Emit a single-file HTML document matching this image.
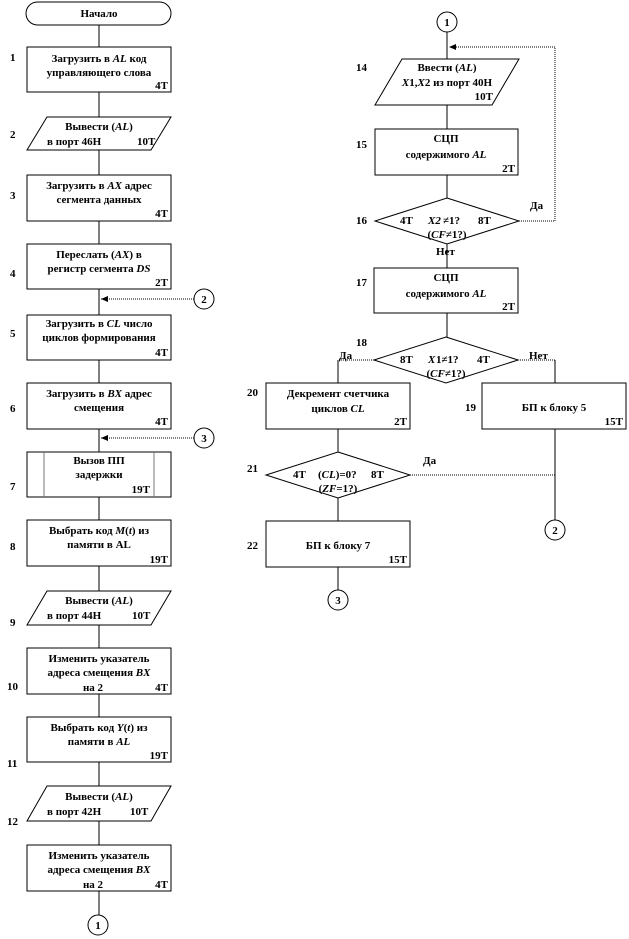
<!DOCTYPE html>
<html><head><meta charset="utf-8"><style>
html,body{margin:0;padding:0;background:#fff;width:629px;height:939px;overflow:hidden}
svg{display:block}
text{font-family:"Liberation Serif","DejaVu Serif",serif;font-weight:bold;font-size:11px;fill:#000}
.n{font-size:11px}
.i{font-style:italic}
</style></head><body>
<svg width="629" height="939" viewBox="0 0 629 939" xmlns="http://www.w3.org/2000/svg">
<g stroke="#000" stroke-width="1" fill="none">
<!-- left main vertical line -->
<line x1="99" y1="25" x2="99" y2="915"/>
<!-- right column line -->
<line x1="447" y1="32" x2="447" y2="337"/>
<line x1="338" y1="360" x2="338" y2="590"/>
<line x1="555" y1="360" x2="555" y2="520"/>
<line x1="374" y1="360" x2="338" y2="360" stroke-dasharray="1,1"/>
<line x1="518" y1="360" x2="555" y2="360" stroke-dasharray="1,1"/>
<line x1="410" y1="475" x2="555" y2="475" stroke-dasharray="1,1"/>
<!-- loop back -->
<polyline points="519,221 555,221 555,47 449,47" stroke-dasharray="1,1"/>
<line x1="194" y1="299" x2="101" y2="299" stroke-dasharray="1,1"/>
<line x1="194" y1="438" x2="101" y2="438" stroke-dasharray="1,1"/>
</g>
<g fill="#000">
<polygon points="101,299 108,296 108,302"/>
<polygon points="101,438 108,435 108,441"/>
<polygon points="449,47 456,44 456,50"/>
</g>
<g stroke="#000" stroke-width="1" fill="#fff">
<rect x="26" y="2" width="145" height="23" rx="11.5"/>
<rect x="27" y="47" width="144" height="45"/>
<polygon points="47,117 171,117 151,150 27,150"/>
<rect x="27" y="175" width="144" height="46"/>
<rect x="27" y="244" width="144" height="45"/>
<rect x="27" y="315" width="144" height="45"/>
<rect x="27" y="383" width="144" height="46"/>
<rect x="27" y="452" width="144" height="45"/>
<rect x="27" y="520" width="144" height="46"/>
<polygon points="47,591 171,591 151,625 27,625"/>
<rect x="27" y="648" width="144" height="46"/>
<rect x="27" y="717" width="144" height="45"/>
<polygon points="47,786 171,786 151,821 27,821"/>
<rect x="27" y="845" width="144" height="46"/>
<circle cx="98" cy="925" r="10"/>
<circle cx="204" cy="299" r="10"/>
<circle cx="204" cy="438" r="10"/>
<circle cx="447" cy="22" r="10"/>
<polygon points="402,59 519,59 492,105 375,105"/>
<rect x="375" y="129" width="143" height="46"/>
<polygon points="447,198 519,221 447,244 375,221"/>
<rect x="374" y="268" width="144" height="45"/>
<polygon points="446,337 518,360 446,383 374,360"/>
<rect x="266" y="383" width="144" height="46"/>
<rect x="482" y="383" width="144" height="46"/>
<polygon points="338,452 410,475 338,498 266,475"/>
<rect x="266" y="521" width="144" height="46"/>
<circle cx="555" cy="530" r="10"/>
<circle cx="338" cy="600" r="10"/>
</g>
<g stroke="#777" stroke-width="1">
<line x1="44" y1="452" x2="44" y2="497"/>
<line x1="154" y1="452" x2="154" y2="497"/>
</g>
<!-- left texts -->
<text x="99" y="17" text-anchor="middle">Начало</text>
<text x="99" y="62" text-anchor="middle">Загрузить в <tspan class="i">AL</tspan> код</text>
<text x="99" y="76" text-anchor="middle">управляющего слова</text>
<text x="168" y="89" text-anchor="end">4Т</text>
<text x="99" y="130" text-anchor="middle">Вывести (<tspan class="i">AL</tspan>)</text>
<text x="47" y="145">в порт 46Н</text><text x="137" y="145">10Т</text>
<text x="99" y="189" text-anchor="middle">Загрузить в <tspan class="i">AX</tspan> адрес</text>
<text x="99" y="203" text-anchor="middle">сегмента данных</text>
<text x="168" y="217" text-anchor="end">4Т</text>
<text x="99" y="258" text-anchor="middle">Переслать (<tspan class="i">AX</tspan>) в</text>
<text x="99" y="272" text-anchor="middle">регистр сегмента <tspan class="i">DS</tspan></text>
<text x="168" y="286" text-anchor="end">2Т</text>
<text x="99" y="327" text-anchor="middle">Загрузить в <tspan class="i">CL</tspan> число</text>
<text x="99" y="341" text-anchor="middle">циклов формирования</text>
<text x="168" y="356" text-anchor="end">4Т</text>
<text x="99" y="397" text-anchor="middle">Загрузить в <tspan class="i">BX</tspan> адрес</text>
<text x="99" y="411" text-anchor="middle">смещения</text>
<text x="168" y="425" text-anchor="end">4Т</text>
<text x="99" y="464" text-anchor="middle">Вызов ПП</text>
<text x="99" y="478" text-anchor="middle">задержки</text>
<text x="150" y="493" text-anchor="end">19Т</text>
<text x="99" y="534" text-anchor="middle">Выбрать код <tspan class="i">M</tspan>(<tspan class="i">t</tspan>) из</text>
<text x="99" y="548" text-anchor="middle">памяти в AL</text>
<text x="168" y="563" text-anchor="end">19Т</text>
<text x="99" y="604" text-anchor="middle">Вывести (<tspan class="i">AL</tspan>)</text>
<text x="47" y="619">в порт 44Н</text><text x="132" y="619">10Т</text>
<text x="99" y="662" text-anchor="middle">Изменить указатель</text>
<text x="99" y="676" text-anchor="middle">адреса смещения <tspan class="i">BX</tspan></text>
<text x="93" y="691" text-anchor="middle">на 2</text><text x="168" y="691" text-anchor="end">4Т</text>
<text x="99" y="731" text-anchor="middle">Выбрать код <tspan class="i">Y</tspan>(<tspan class="i">t</tspan>) из</text>
<text x="99" y="745" text-anchor="middle">памяти в <tspan class="i">AL</tspan></text>
<text x="168" y="759" text-anchor="end">19Т</text>
<text x="99" y="800" text-anchor="middle">Вывести (<tspan class="i">AL</tspan>)</text>
<text x="47" y="815">в порт 42Н</text><text x="130" y="815">10Т</text>
<text x="99" y="859" text-anchor="middle">Изменить указатель</text>
<text x="99" y="873" text-anchor="middle">адреса смещения <tspan class="i">BX</tspan></text>
<text x="93" y="888" text-anchor="middle">на 2</text><text x="168" y="888" text-anchor="end">4Т</text>
<text x="98" y="929" text-anchor="middle">1</text>
<text x="204" y="303" text-anchor="middle">2</text>
<text x="204" y="442" text-anchor="middle">3</text>
<!-- left numbers -->
<text x="10" y="61">1</text><text x="10" y="138">2</text><text x="10" y="199">3</text>
<text x="10" y="277">4</text><text x="10" y="337">5</text><text x="10" y="412">6</text>
<text x="10" y="490">7</text><text x="10" y="550">8</text><text x="10" y="626">9</text>
<text x="7" y="690">10</text><text x="7" y="767">11</text><text x="7" y="825">12</text>
<!-- right texts -->
<text x="447" y="26" text-anchor="middle">1</text>
<text x="447" y="71" text-anchor="middle">Ввести (<tspan class="i">AL</tspan>)</text>
<text x="447" y="86" text-anchor="middle"><tspan class="i">X</tspan>1,<tspan class="i">X</tspan>2 из порт 40Н</text>
<text x="493" y="100" text-anchor="end">10Т</text>
<text x="446" y="142" text-anchor="middle">СЦП</text>
<text x="446" y="158" text-anchor="middle">содержимого <tspan class="i">AL</tspan></text>
<text x="515" y="172" text-anchor="end">2Т</text>
<text x="400" y="224">4Т</text><text x="428" y="224" class="i">X2</text><text x="443" y="224">≠1?</text><text x="478" y="224">8Т</text>
<text x="447" y="238" text-anchor="middle">(<tspan class="i">CF</tspan>≠1?)</text>
<text x="530" y="209">Да</text>
<text x="436" y="255">Нет</text>
<text x="446" y="281" text-anchor="middle">СЦП</text>
<text x="446" y="297" text-anchor="middle">содержимого <tspan class="i">AL</tspan></text>
<text x="515" y="310" text-anchor="end">2Т</text>
<text x="400" y="363">8Т</text><text x="428" y="363" class="i">X</text><text x="436" y="363">1≠1?</text><text x="477" y="363">4Т</text>
<text x="446" y="377" text-anchor="middle">(<tspan class="i">CF</tspan>≠1?)</text>
<text x="339" y="359">Да</text>
<text x="529" y="359">Нет</text>
<text x="338" y="397" text-anchor="middle">Декремент счетчика</text>
<text x="338" y="412" text-anchor="middle">циклов <tspan class="i">CL</tspan></text>
<text x="407" y="425" text-anchor="end">2Т</text>
<text x="554" y="411" text-anchor="middle">БП к блоку 5</text>
<text x="623" y="425" text-anchor="end">15Т</text>
<text x="293" y="478">4Т</text><text x="318" y="478">(<tspan class="i">CL</tspan>)=0?</text><text x="371" y="478">8Т</text>
<text x="338" y="492" text-anchor="middle">(<tspan class="i">ZF</tspan>=1?)</text>
<text x="423" y="464">Да</text>
<text x="338" y="549" text-anchor="middle">БП к блоку 7</text>
<text x="407" y="563" text-anchor="end">15Т</text>
<text x="555" y="534" text-anchor="middle">2</text>
<text x="338" y="604" text-anchor="middle">3</text>
<text x="356" y="71">14</text><text x="356" y="148">15</text><text x="356" y="224">16</text>
<text x="356" y="286">17</text><text x="356" y="346">18</text><text x="247" y="396">20</text>
<text x="465" y="411">19</text><text x="247" y="472">21</text><text x="247" y="549">22</text>
</svg>
</body></html>
